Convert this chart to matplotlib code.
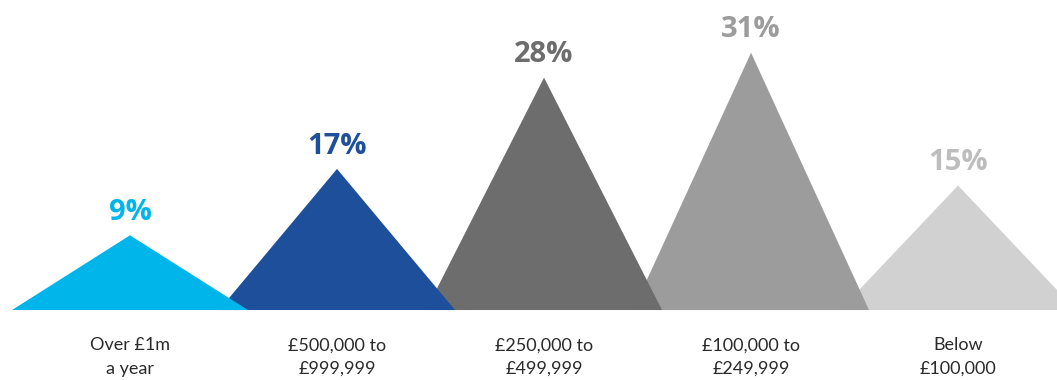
import matplotlib.pyplot as plt
import numpy as np

# Share of respondents by annual income band
bands = ['Over £1m\na year', '£500,000 to\n£999,999', '£250,000 to\n£499,999',
         '£100,000 to\n£249,999', 'Below\n£100,000']
shares = [9, 17, 28, 31, 15]
colours = ['#00b5ea', '#1e4f9a', '#6d6d6d', '#9c9c9c', '#d1d1d1']
text_colours = ['#00b5ea', '#1e4f9a', '#6d6d6d', '#9c9c9c', '#bdbdbd']

fig = plt.figure(figsize=(10.57, 3.8), dpi=100)
ax = fig.add_axes([0, 0, 1, 1])

half = 0.57  # half width of each peak
x = np.arange(len(shares))

for i in range(len(shares)):
    # left-most peak sits on top
    ax.fill([x[i] - half, x[i], x[i] + half], [0, shares[i], 0],
            color=colours[i], lw=0, zorder=10 - i)
    ax.annotate(f'{shares[i]}%', (x[i], shares[i]), xytext=(0, 6),
                textcoords='offset points', ha='center', va='bottom',
                fontsize=21, fontweight='bold', color=text_colours[i],
                family=['Open Sans', 'DejaVu Sans'])
    ax.text(x[i], -3.3, bands[i], ha='center', va='top', fontsize=13,
            color='#2a2a2a', linespacing=1.55, family=['Lato', 'DejaVu Sans'])

ax.set_xlim(-0.628, 4.478)
ax.set_ylim(-8.43, 37.35)
ax.axis('off')

fig.savefig('out.png', dpi=100)
